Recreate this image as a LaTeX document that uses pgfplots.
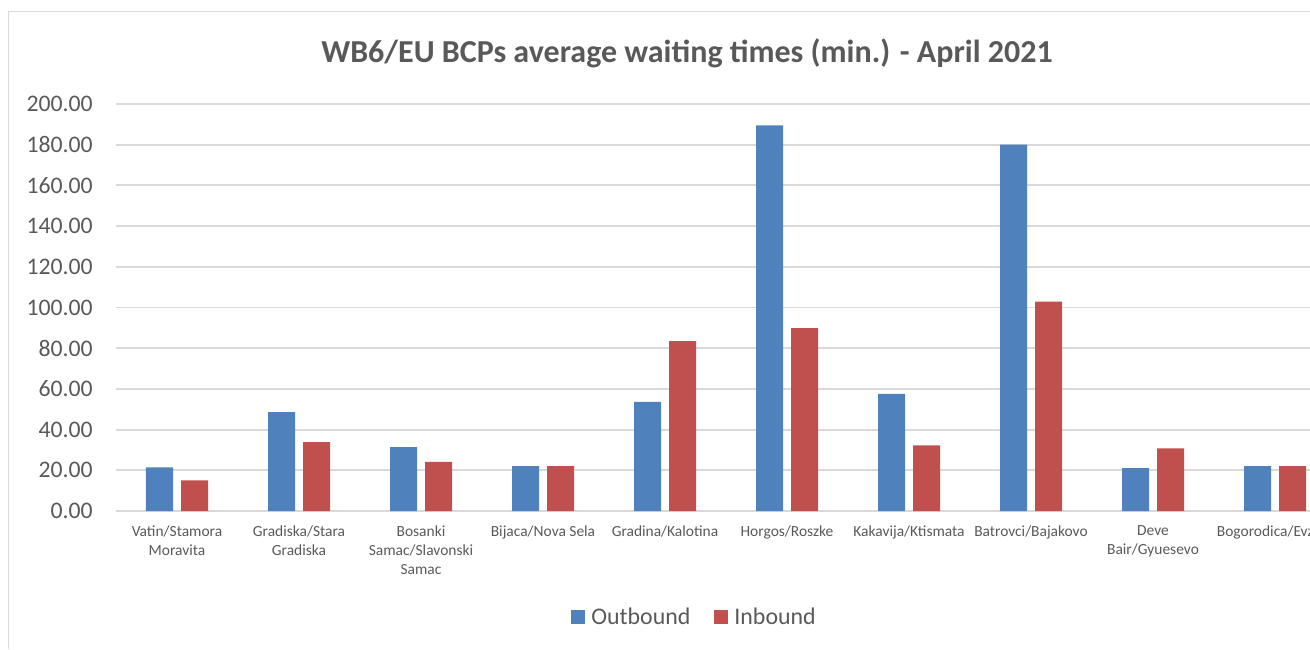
\documentclass[border=0pt]{standalone}
\usepackage{fontspec}
\setmainfont{Carlito}
\usepackage{pgfplots}
\pgfplotsset{compat=1.18}
\usepackage{pgfplotstable}
\definecolor{obl}{HTML}{4F81BD}
\definecolor{ibr}{HTML}{C0504D}
\definecolor{gridc}{HTML}{D9D9D9}
\definecolor{txt}{HTML}{595959}

\pgfplotstableread{
idx out inb
0 21.5 15.1
1 48.6 33.8
2 31.4 24.2
3 22.0 22.0
4 53.6 83.5
5 189.5 89.9
6 57.5 32.3
7 180.0 102.9
8 21.1 30.8
9 22.0 22.0
}\datatable

\begin{document}
\begin{tikzpicture}[trim left=0pt, trim right=982.5pt]
\path (0pt,0pt) rectangle (982.5pt,-486.75pt);
\draw[gridc, line width=1pt] (6.4pt,-486.75pt) -- (6.4pt,-8.6pt) -- (1000pt,-8.6pt);
\node[anchor=base, font=\fontsize{24}{28}\selectfont\bfseries, text=txt] at (515.25pt,-47pt) {WB6/EU BCPs average waiting times (min.) - April 2021};
\begin{axis}[
  at={(87pt,-383.25pt)}, anchor=south west,
  x=91.5pt, y=1.52625pt,
  xmin=-0.5, xmax=9.5, ymin=0, ymax=200,
  enlargelimits=false,
  axis line style={draw=none},
  ytick={0,20,...,200},
  ymajorgrids, grid style={gridc, line width=1.4pt},
  major tick length=0pt,
  xtick={0,...,9},
  xticklabels={Vatin/Stamora\\Moravita, Gradiska/Stara\\Gradiska, Bosanki\\Samac/Slavonski\\Samac, Bijaca/Nova Sela, Gradina/Kalotina, Horgos/Roszke, Kakavija/Ktismata, Batrovci/Bajakovo, Deve\\Bair/Gyuesevo, Bogorodica/Evzoni},
  /pgf/number format/assume math mode=true,
  yticklabel style={/pgf/number format/.cd, fixed, fixed zerofill, precision=2, /tikz/.cd, font=\fontsize{17.8}{20}\selectfont, text=txt, inner sep=0pt, anchor=east, xshift=-17.25pt},
  xticklabel style={font=\fontsize{11.6}{14.6}\selectfont, text=txt, align=center, inner sep=0pt, anchor=north, yshift=-10.5pt},
  ybar, bar width=20.25pt,
  legend style={at={(0.4745,-0.2604)}, anchor=center, draw=none, fill=none, legend columns=-1, font=\fontsize{17.9}{20}\selectfont, text=txt, /tikz/every even column/.append style={column sep=16pt}, /tikz/every odd column/.append style={column sep=2.5pt}},
  legend image code/.code={\fill[#1] (0pt,-5.25pt) rectangle (10.5pt,5.25pt);},
]
\addplot[fill=obl, draw=none, bar shift=-13.125pt] table[x=idx,y=out]{\datatable};
\addplot[fill=ibr, draw=none, bar shift=13.125pt] table[x=idx,y=inb]{\datatable};
\legend{Outbound, Inbound}
\end{axis}
\end{tikzpicture}
\end{document}
